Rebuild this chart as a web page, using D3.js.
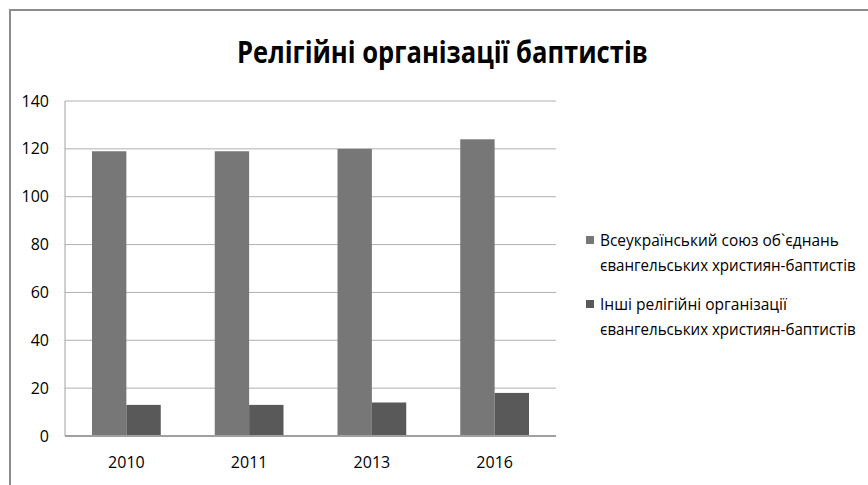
<!DOCTYPE html>
<html>
<head>
<meta charset="utf-8">
<script src="https://cdn.jsdelivr.net/npm/d3@7"></script>
<style>
  body { margin: 0; background: #fff; }
  svg text { font-family: "Open Sans", "Noto Sans", sans-serif; fill: #000; }
</style>
</head>
<body>
<svg id="chart"></svg>
<script>
// data
const years = ['2010', '2011', '2013', '2016'];
const seriesNames = [
  ['Всеукраїнський союз об`єднань', 'євангельських християн-баптистів'],
  ['Інші релігійні організації', 'євангельських християн-баптистів']
];
const unionValues = [119, 119, 120, 124];
const otherValues = [13, 13, 14, 18];
const yTicks = [0, 20, 40, 60, 80, 100, 120, 140];
const colors = ['#777777', '#595959'];

const W = 868, H = 485;
const margin = { top: 101, left: 65, right: 312, bottom: 49 };
const width = W - margin.left - margin.right;
const height = H - margin.top - margin.bottom;

const svg = d3.select('#chart').attr('width', W).attr('height', H);

// squeeze a text horizontally so it fills `w` pixels starting at (x, y)
function fitText(sel, x, y, w) {
  const natural = sel.node().getComputedTextLength();
  const k = w / natural;
  sel.attr('x', 0).attr('y', 0)
    .attr('transform', `translate(${x},${y}) scale(${k},1)`);
}

// outer frame (only top and left visible)
svg.append('path')
  .attr('d', `M10,${H} V10 H${W}`)
  .attr('fill', 'none')
  .attr('stroke', '#8c8c8c')
  .attr('stroke-width', 2);

const title = svg.append('text')
  .attr('font-size', 30)
  .attr('font-weight', 'bold')
  .text('Релігійні організації баптистів');
fitText(title, 237, 63, 411);

const chart = svg.append('g')
  .attr('transform', `translate(${margin.left},${margin.top})`);

const x0 = d3.scaleBand().domain(years).range([0, width]).paddingInner(0.44).paddingOuter(0.22);
const x1 = d3.scaleBand().domain([0, 1]).range([0, x0.bandwidth()]);
const y = d3.scaleLinear().domain([0, 140]).range([height, 0]);

// gridlines
chart.selectAll('.grid')
  .data(yTicks.filter(d => d > 0))
  .join('line')
    .attr('x1', 0).attr('x2', width)
    .attr('y1', d => y(d)).attr('y2', d => y(d))
    .attr('stroke', '#b0b0b0').attr('stroke-width', 1);

// plot left edge
chart.append('line')
  .attr('x1', 0).attr('x2', 0).attr('y1', 0).attr('y2', height)
  .attr('stroke', '#a0a0a0').attr('stroke-width', 1);

const rows = years.map((yr, i) => ({ year: yr, vals: [unionValues[i], otherValues[i]] }));

chart.selectAll('.grp')
  .data(rows)
  .join('g')
    .attr('transform', d => `translate(${x0(d.year)},0)`)
  .selectAll('rect')
    .data(d => d.vals.map((v, k) => ({ k, v })))
  .join('rect')
    .attr('x', d => x1(d.k))
    .attr('y', d => y(d.v))
    .attr('width', x1.bandwidth())
    .attr('height', d => height - y(d.v))
    .attr('fill', d => colors[d.k]);

// x axis line
chart.append('line')
  .attr('x1', 0).attr('x2', width).attr('y1', height).attr('y2', height)
  .attr('stroke', '#a0a0a0').attr('stroke-width', 2);

// y axis labels
const yAxis = d3.axisLeft(y).tickValues(yTicks).tickSize(0).tickPadding(16);
const yG = chart.append('g').call(yAxis);
yG.select('.domain').remove();
yG.selectAll('text').attr('font-size', 16).attr('font-family', '"Open Sans", sans-serif').attr('fill', '#000');

// x axis labels
const xAxis = d3.axisBottom(x0).tickSize(0).tickPadding(21);
const xG = chart.append('g').attr('transform', `translate(0,${height})`).call(xAxis);
xG.select('.domain').remove();
xG.selectAll('text').attr('font-size', 16).attr('font-family', '"Open Sans", sans-serif').attr('fill', '#000');

// legend
const legendTop = [246, 310];
const lineWidths = [[239, 256], [187, 256]];
seriesNames.forEach((lines, i) => {
  svg.append('rect')
    .attr('x', 586).attr('y', legendTop[i] - 10)
    .attr('width', 8).attr('height', 8)
    .attr('fill', colors[i]);
  lines.forEach((t, j) => {
    const txt = svg.append('text')
      .attr('font-size', 16)
      .text(t);
    fitText(txt, 600, legendTop[i] + j * 25, lineWidths[i][j]);
  });
});
</script>
</body>
</html>
